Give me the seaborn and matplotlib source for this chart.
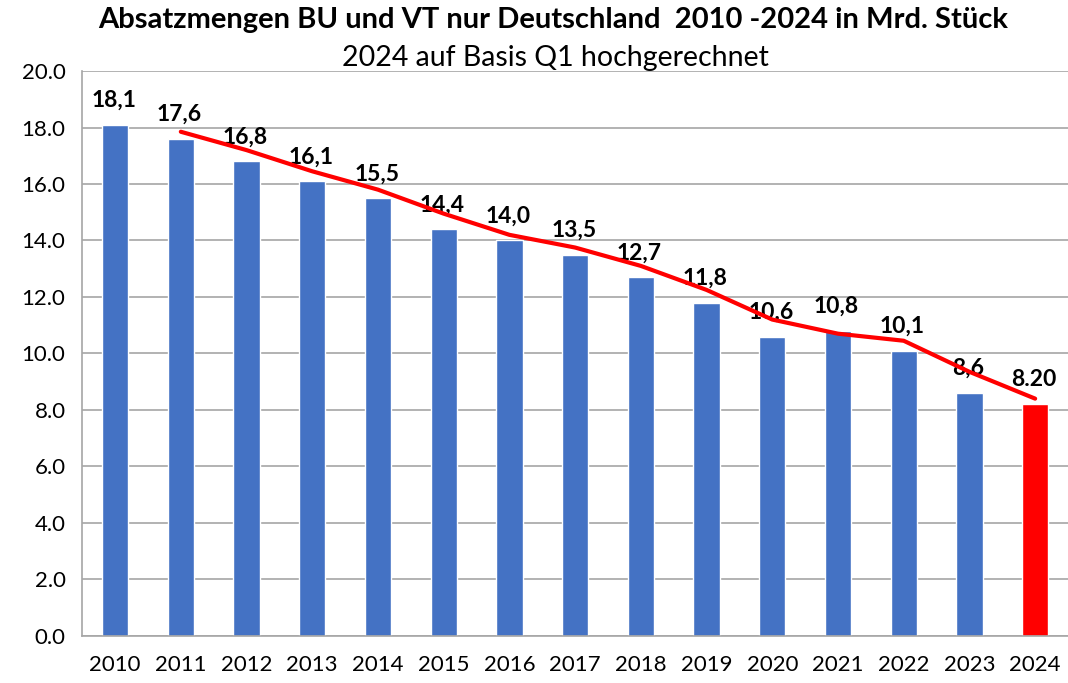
import pandas as pd
import matplotlib.pyplot as plt
import seaborn as sns

sns.set_theme(style="white")
plt.rcParams['font.family'] = ['Lato', 'DejaVu Sans']
plt.rcParams['text.color'] = 'black'
plt.rcParams['xtick.color'] = 'black'
plt.rcParams['ytick.color'] = 'black'

# Daten
jahre = ['2010', '2011', '2012', '2013', '2014', '2015', '2016', '2017',
         '2018', '2019', '2020', '2021', '2022', '2023', '2024']
mengen = [18.1, 17.6, 16.8, 16.1, 15.5, 14.4, 14.0, 13.5,
          12.7, 11.8, 10.6, 10.8, 10.1, 8.6, 8.2]
labels = ['18,1', '17,6', '16,8', '16,1', '15,5', '14,4', '14,0', '13,5',
          '12,7', '11,8', '10,6', '10,8', '10,1', '8,6', '8.20']
trend_jahre = jahre[1:]
trend = [17.85, 17.2, 16.45, 15.8, 14.95, 14.2, 13.75, 13.1,
         12.25, 11.2, 10.7, 10.45, 9.35, 8.4]

df = pd.DataFrame({'jahr': jahre, 'menge': mengen})
farben = ['#4472C4'] * (len(jahre) - 1) + ['#FF0000']

fig = plt.figure(figsize=(10.68, 6.83), dpi=100)
ax = fig.add_axes([0.077, 0.069, 0.923, 0.827])

sns.barplot(data=df, x='jahr', y='menge', hue='jahr', palette=farben,
            legend=False, width=0.4, saturation=1, ax=ax)

for i, (v, t) in enumerate(zip(mengen, labels)):
    ax.annotate(t, (i, v), xytext=(-1, 10), textcoords='offset points',
                ha='center', va='bottom', fontsize=16.5, fontweight='bold', zorder=4)

# Trendlinie über den Beschriftungen
pos = [jahre.index(j) for j in trend_jahre]
ax.plot(pos, trend, color='#FF0000', lw=3, solid_capstyle='round', zorder=5)

ax.set_ylim(0, 20)
ax.set_xlim(-0.5, 14.4)
ax.set_yticks(range(0, 21, 2))
ax.set_yticklabels([f'{v:.1f}' for v in range(0, 21, 2)], fontsize=16)
ax.set_xticks(range(len(jahre)))
ax.set_xticklabels(jahre, fontsize=16)
ax.tick_params(axis='x', length=0, pad=14)
ax.tick_params(axis='y', length=0, pad=12)
ax.set_xticks([i + 0.5 for i in range(-1, len(jahre))], minor=True)
ax.tick_params(axis='x', which='minor', length=6, color='#A6A6A6', width=1.2)

ax.grid(axis='y', color='#A6A6A6', lw=1.2)
ax.set_axisbelow(True)
for s in ['top', 'right']:
    ax.spines[s].set_visible(False)
for s in ['left', 'bottom']:
    ax.spines[s].set_color('#A6A6A6')
    ax.spines[s].set_linewidth(1.2)
ax.set_xlabel('')
ax.set_ylabel('')

fig.text(0.518, 0.971, 'Absatzmengen BU und VT nur Deutschland  2010 -2024 in Mrd. Stück',
         ha='center', va='center', fontsize=21, fontweight='bold')
fig.text(0.52, 0.915, '2024 auf Basis Q1 hochgerechnet', ha='center', va='center', fontsize=20.5)

plt.savefig('out.png', dpi=100)
